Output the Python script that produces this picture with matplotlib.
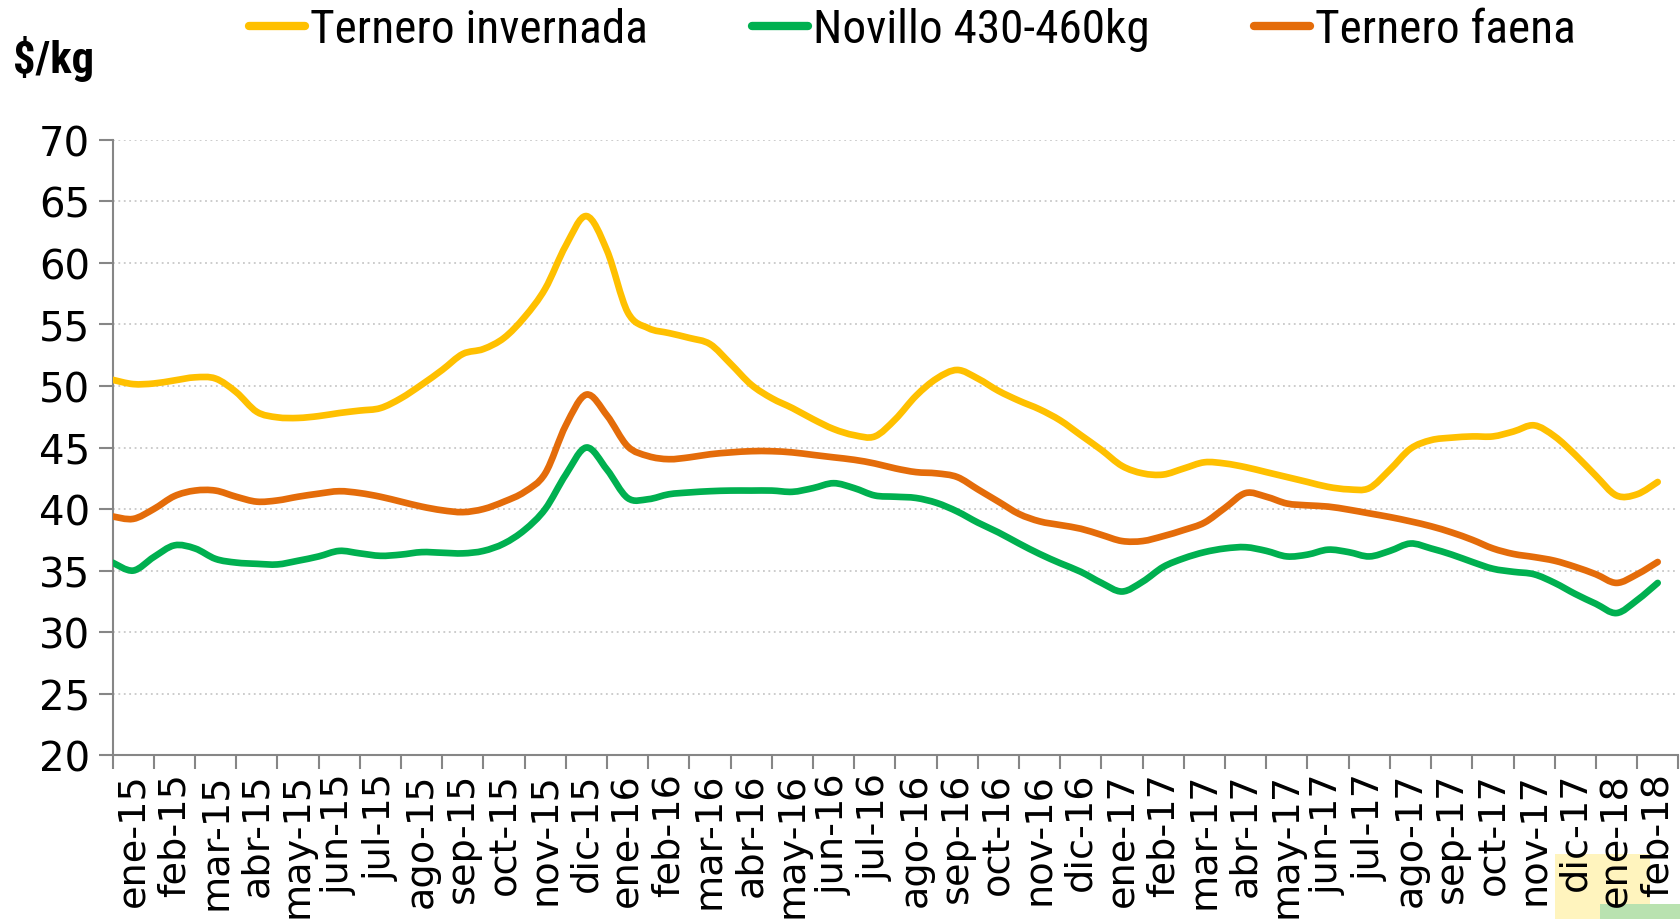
import numpy as np
import matplotlib
matplotlib.use("Agg")
import matplotlib.pyplot as plt
from matplotlib import font_manager
from matplotlib.path import Path
from matplotlib.patches import PathPatch, Rectangle
from matplotlib.lines import Line2D

months = ["ene-15", "feb-15", "mar-15", "abr-15", "may-15", "jun-15", "jul-15", "ago-15",
          "sep-15", "oct-15", "nov-15", "dic-15", "ene-16", "feb-16", "mar-16", "abr-16",
          "may-16", "jun-16", "jul-16", "ago-16", "sep-16", "oct-16", "nov-16", "dic-16",
          "ene-17", "feb-17", "mar-17", "abr-17", "may-17", "jun-17", "jul-17", "ago-17",
          "sep-17", "oct-17", "nov-17", "dic-17", "ene-18", "feb-18"]

# semi-monthly observations ($/kg)
ternero_invernada = [50.5, 50.15, 50.2, 50.45, 50.7, 50.6, 49.5, 47.9, 47.45, 47.4,
                     47.55, 47.8, 48.0, 48.2, 49.0, 50.1, 51.3, 52.6, 53.0, 53.9,
                     55.6, 57.9, 61.4, 63.8, 61.0, 56.0, 54.7, 54.3, 53.9, 53.4,
                     51.8, 50.1, 49.0, 48.2, 47.3, 46.5, 46.0, 45.9, 47.3, 49.2,
                     50.6, 51.3, 50.6, 49.6, 48.8, 48.1, 47.2, 46.0, 44.8, 43.5,
                     42.9, 42.8, 43.3, 43.8, 43.7, 43.4, 43.0, 42.6, 42.2, 41.8,
                     41.6, 41.7, 43.2, 44.9, 45.6, 45.8, 45.9, 45.9, 46.3, 46.8,
                     45.9, 44.4, 42.7, 41.1, 41.2, 42.2]
novillo = [35.65, 35.0, 36.1, 37.05, 36.8, 35.95, 35.65, 35.55, 35.5, 35.8,
           36.15, 36.6, 36.4, 36.2, 36.3, 36.5, 36.45, 36.4, 36.6, 37.2,
           38.3, 40.0, 42.8, 45.0, 43.2, 40.9, 40.8, 41.2, 41.35, 41.45,
           41.5, 41.5, 41.5, 41.4, 41.7, 42.1, 41.7, 41.1, 41.0, 40.9,
           40.5, 39.8, 38.9, 38.1, 37.2, 36.35, 35.6, 34.9, 34.0, 33.3,
           34.1, 35.3, 36.0, 36.5, 36.8, 36.9, 36.6, 36.15, 36.3, 36.7,
           36.5, 36.15, 36.6, 37.2, 36.8, 36.3, 35.7, 35.15, 34.9, 34.7,
           34.0, 33.1, 32.3, 31.55, 32.6, 34.0]
ternero_faena = [39.4, 39.2, 40.0, 41.05, 41.5, 41.5, 41.0, 40.6, 40.7, 41.0,
                 41.25, 41.45, 41.3, 41.0, 40.6, 40.2, 39.9, 39.75, 40.0, 40.6,
                 41.4, 42.9, 46.8, 49.3, 47.6, 45.1, 44.3, 44.05, 44.2, 44.45,
                 44.6, 44.7, 44.7, 44.6, 44.4, 44.2, 44.0, 43.7, 43.3, 43.0,
                 42.9, 42.6, 41.6, 40.6, 39.6, 39.0, 38.7, 38.4, 37.9, 37.4,
                 37.4, 37.8, 38.3, 38.9, 40.1, 41.3, 41.0, 40.45, 40.3, 40.2,
                 39.95, 39.65, 39.35, 39.0, 38.6, 38.1, 37.5, 36.8, 36.35, 36.1,
                 35.8, 35.3, 34.7, 34.0, 34.7, 35.7]

series_names = ["Ternero invernada", "Novillo 430-460kg", "Ternero faena"]
colors = ["#FFC000", "#00B050", "#E46C0A"]

# pick a condensed face if one is installed
installed = {f.name for f in font_manager.fontManager.ttflist}
cond_faces = [(f.name, f.stretch) for f in font_manager.fontManager.ttflist]
narrow_prop = None
for name in ["Liberation Sans Narrow", "Roboto Condensed", "Open Sans Condensed",
             "Noto Sans Condensed", "DejaVu Sans Condensed"]:
    if name in installed:
        narrow_prop = {"family": [name, "DejaVu Sans"]}
        break
if narrow_prop is None:
    has_cond = [n for n, s in cond_faces
                if n in ("DejaVu Sans", "Noto Sans", "Open Sans", "Roboto")
                and (str(s) in ("condensed", "semi-condensed") or (isinstance(s, int) and s < 500))]
    if has_cond:
        narrow_prop = {"family": [has_cond[0], "DejaVu Sans"], "stretch": "condensed"}
    else:
        narrow_prop = {"family": ["Lato", "DejaVu Sans"]}

W, H = 1680, 920
fig = plt.figure(figsize=(W / 100, H / 100), dpi=100)

# faint decorative patches at lower right (partly hidden image in the original)
fig.patches.append(Rectangle((1555 / W, 0), 95 / W, 65 / H, transform=fig.transFigure,
                             facecolor="#FFF4BE", edgecolor="none", zorder=-5))
fig.patches.append(Rectangle((1600 / W, 0), 80 / W, 15 / H, transform=fig.transFigure,
                             facecolor="#B9E2B0", edgecolor="none", zorder=-4))

ax = fig.add_axes([0.067, 0.178, 0.932, 0.669])
ax.patch.set_alpha(0)

def smooth_path(xs, ys):
    xs = np.asarray(xs, float); ys = np.asarray(ys, float)
    pts = np.column_stack([xs, ys])
    n = len(pts)
    verts = [pts[0]]
    codes = [Path.MOVETO]
    for i in range(n - 1):
        p0 = pts[max(i - 1, 0)]; p1 = pts[i]; p2 = pts[i + 1]; p3 = pts[min(i + 2, n - 1)]
        c1 = p1 + (p2 - p0) / 6.0
        c2 = p2 - (p3 - p1) / 6.0
        verts += [c1, c2, p2]
        codes += [Path.CURVE4] * 3
    return Path(verts, codes)

for vals, c in zip([ternero_invernada, novillo, ternero_faena], colors):
    xs = np.arange(len(vals)) * 0.5
    patch = PathPatch(smooth_path(xs, vals), fill=False, edgecolor=c, lw=4.8,
                      capstyle="round", joinstyle="round", zorder=3)
    ax.add_patch(patch)

ax.set_xlim(0, len(months))
ax.set_ylim(20, 70)
ax.set_yticks(np.arange(20, 71, 5))
ax.set_xticks(np.arange(0, len(months) + 1))
ax.set_xticklabels([])
ax.set_xticks(np.arange(len(months)) + 0.5, minor=True)
ax.set_xticklabels(months, minor=True, rotation=90, fontsize=27.5)
ax.tick_params(axis="x", which="minor", length=0, pad=12)
ax.tick_params(axis="x", which="major", length=10, width=1.5, color="#868686")
ax.tick_params(axis="y", length=10, width=1.5, color="#868686", labelsize=29, pad=6)

ax.grid(axis="y", linestyle=(0, (1, 2)), color="#C8C8C8", lw=1.3)
ax.set_axisbelow(True)
for s in ["top", "right"]:
    ax.spines[s].set_visible(False)
for s in ["left", "bottom"]:
    ax.spines[s].set_color("#868686")
    ax.spines[s].set_linewidth(1.5)

handles = [Line2D([0], [0], color=c, lw=6, solid_capstyle="round") for c in colors]
leg_prop = dict(narrow_prop); leg_prop["size"] = 34
fig.legend(handles, series_names, loc="center", bbox_to_anchor=(0.543, 0.967), ncol=3,
           frameon=False, handlelength=1.2, handletextpad=0.1, columnspacing=2.2,
           prop=leg_prop)
title_prop = dict(narrow_prop); title_prop["size"] = 32; title_prop["weight"] = "bold"
fig.text(0.008, 0.936, "$/kg", ha="left", va="center",
         fontproperties=font_manager.FontProperties(**title_prop))

fig.savefig("out.png", dpi=100, facecolor="white")
